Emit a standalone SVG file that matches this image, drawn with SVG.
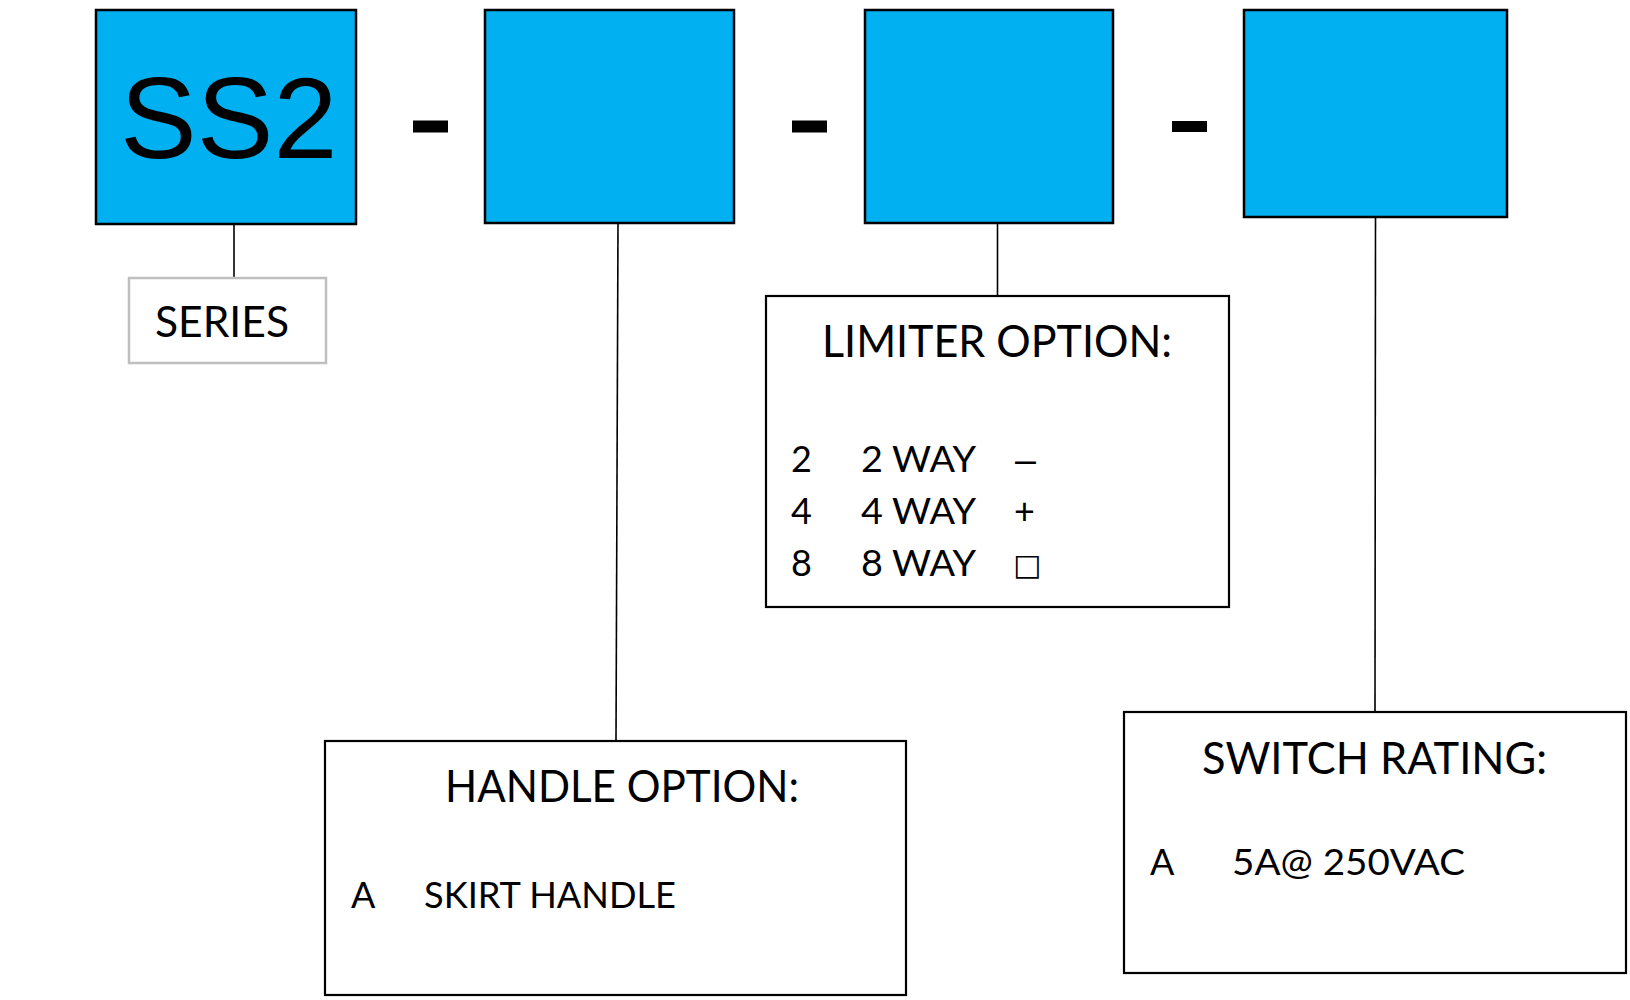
<svg xmlns="http://www.w3.org/2000/svg" width="1630" height="1000" viewBox="0 0 1630 1000">
<style>
.code{fill:#00B0F0;stroke:#000;stroke-width:2.5}
.opt{fill:#fff;stroke:#000;stroke-width:2.2}
.ser{fill:#fff;stroke:#BFBFBF;stroke-width:2.5}
.dash{fill:#000}
.conn line{stroke:#000;stroke-width:1.6}
.t{font-family:Lato,"Liberation Sans",sans-serif;fill:#000}
.h{font-size:44px}
.r{font-size:36px}
.big{font-family:"Liberation Sans",Arial,sans-serif;font-size:115px;fill:#000}
.sym{font-family:"DejaVu Sans",Lato,sans-serif;font-size:30px;fill:#000}
.en{font-family:"Liberation Sans",Arial,sans-serif;font-size:36px;fill:#000}
</style>
<rect width="1630" height="1000" fill="#fff"/>
<g class="conn" id="connectors">
<line x1="234" y1="224" x2="234" y2="278"/>
<line x1="618" y1="223" x2="616" y2="741"/>
<line x1="997.5" y1="213" x2="997.5" y2="296"/>
<line x1="1375.5" y1="217" x2="1375" y2="712"/>
</g>
<g id="box-ss2">
<rect class="code" x="96" y="10" width="260" height="214"/>
<text class="big" x="120" y="158">SS2</text>
</g>
<g id="dash1"><rect class="dash" x="413" y="120.5" width="35" height="12"/></g>
<g id="box-handle-code"><rect class="code" x="485" y="10" width="249" height="213"/></g>
<g id="dash2"><rect class="dash" x="792" y="120.5" width="35" height="12"/></g>
<g id="box-limiter-code"><rect class="code" x="865" y="10" width="248" height="213"/></g>
<g id="dash3"><rect class="dash" x="1172" y="121" width="35" height="11"/></g>
<g id="box-rating-code"><rect class="code" x="1244" y="10" width="263" height="207"/></g>
<g id="series">
<rect class="ser" x="129" y="278" width="197" height="85"/>
<text class="t" x="155" y="337" font-size="43" textLength="134" lengthAdjust="spacingAndGlyphs">SERIES</text>
</g>
<g id="limiter-option">
<rect class="opt" x="766" y="296" width="463" height="311"/>
<text class="t h" x="822" y="356.5" textLength="350" lengthAdjust="spacingAndGlyphs">LIMITER OPTION:</text>
<text class="t r" x="791" y="471.5">2</text>
<text class="t r" x="861" y="471.5" textLength="115" lengthAdjust="spacingAndGlyphs">2 WAY</text>
<text class="en" x="1015" y="471.5" textLength="21" lengthAdjust="spacingAndGlyphs">–</text>
<text class="t r" x="791" y="523.5">4</text>
<text class="t r" x="861" y="523.5" textLength="115" lengthAdjust="spacingAndGlyphs">4 WAY</text>
<text class="t r" x="1014" y="523.5">+</text>
<text class="t r" x="791" y="576">8</text>
<text class="t r" x="861" y="576" textLength="115" lengthAdjust="spacingAndGlyphs">8 WAY</text>
<text class="sym" x="1013" y="575">□</text>
</g>
<g id="handle-option">
<rect class="opt" x="325" y="741" width="581" height="254"/>
<text class="t h" x="445" y="801.5" textLength="354" lengthAdjust="spacingAndGlyphs">HANDLE OPTION:</text>
<text class="t r" x="351" y="907.5">A</text>
<text class="t r" x="424" y="907.5" textLength="252" lengthAdjust="spacingAndGlyphs">SKIRT HANDLE</text>
</g>
<g id="switch-rating">
<rect class="opt" x="1124" y="712" width="502" height="261"/>
<text class="t h" x="1202" y="773.5" textLength="345" lengthAdjust="spacingAndGlyphs">SWITCH RATING:</text>
<text class="t r" x="1150" y="875">A</text>
<text class="t r" x="1232" y="875" textLength="233" lengthAdjust="spacingAndGlyphs">5A@ 250VAC</text>
</g>
</svg>
